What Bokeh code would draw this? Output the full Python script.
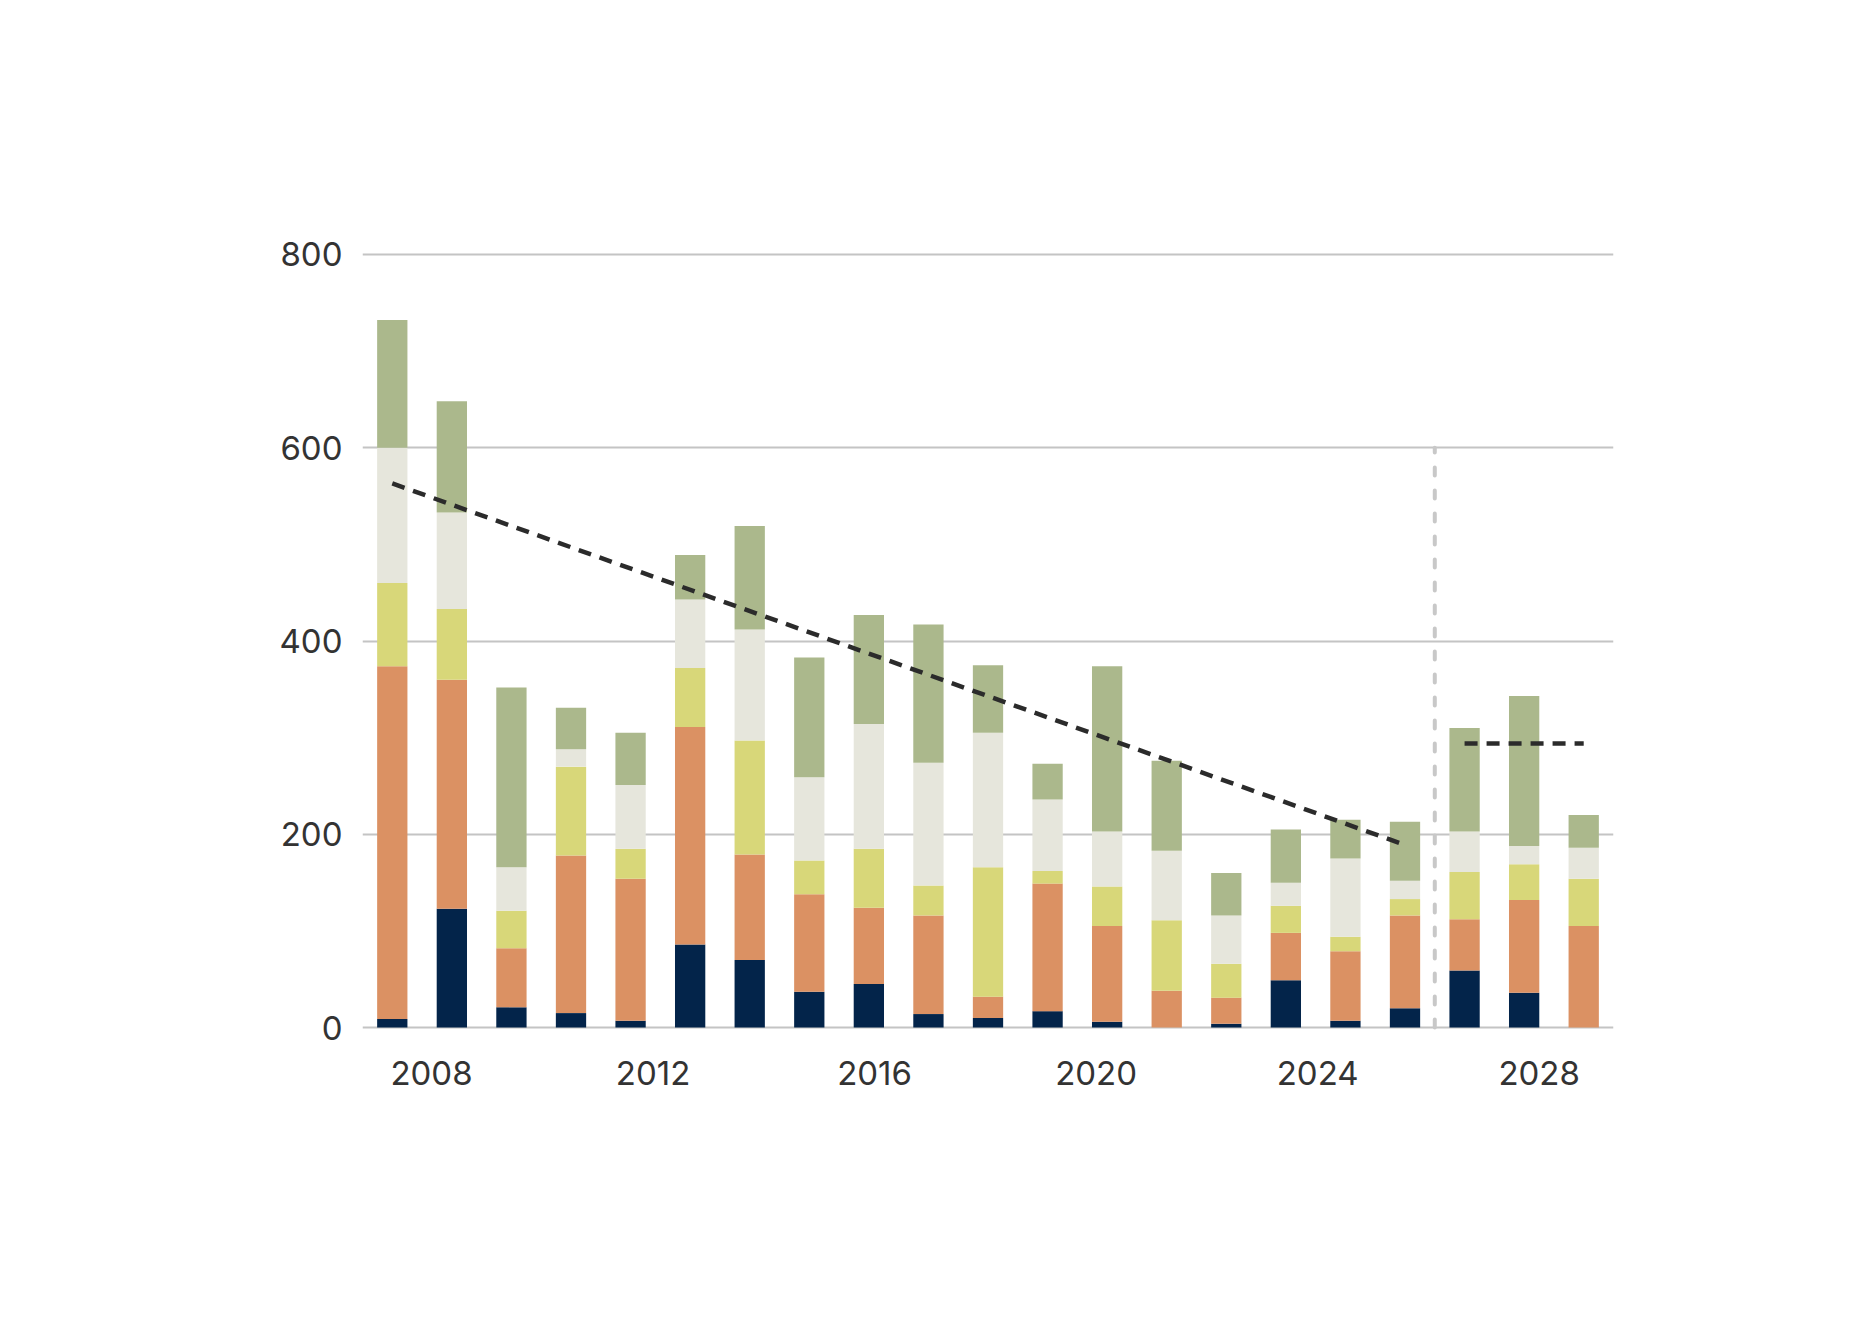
from bokeh.plotting import figure
from bokeh.models import ColumnDataSource, Range1d, FixedTicker
from bokeh.embed import file_html
from bokeh.resources import INLINE

# ---- data ----
bar_labels = [str(y) for y in range(2007, 2028)]
navy   = [9, 123, 21, 15, 7, 86, 70, 37, 45, 14, 10, 17, 6, 0, 4, 49, 7, 20, 59, 36, 0]
orange = [365, 237, 61, 163, 147, 225, 109, 101, 79, 102, 22, 132, 99, 38, 27, 49, 72, 96, 53, 96, 105]
yellow = [86, 73, 39, 92, 31, 61, 118, 35, 61, 31, 134, 13, 41, 73, 35, 28, 15, 17, 49, 37, 49]
light  = [140, 100, 45, 18, 66, 71, 115, 86, 129, 127, 139, 74, 57, 72, 50, 24, 81, 19, 42, 19, 32]
green  = [132, 115, 186, 43, 54, 46, 107, 124, 113, 143, 70, 37, 171, 93, 44, 55, 40, 61, 107, 155, 34]

trend_past_idx = [0, 17]
trend_past_val = [563, 189]
trend_fut_idx = [18, 20]
trend_fut_val = [294, 294]
split_after_idx = 17          # vertical divider sits between bar 17 and bar 18
split_top = 600

tick_years = [2008, 2012, 2016, 2020, 2024, 2028]
y_ticks = [0, 200, 400, 600, 800]

# ---- axis geometry ----
X_START, X_END = 2006.754, 2029.342
n = len(bar_labels)
step = (X_END - X_START) / n


def xpos(i):
    return X_START + (i + 0.5) * step


source = ColumnDataSource(dict(
    x=[xpos(i) for i in range(n)],
    label=bar_labels,
    navy=navy, orange=orange, yellow=yellow, light=light, green=green,
))

colors = ["#03244a", "#db9163", "#d8d779", "#e6e6dc", "#abb88c"]
keys = ["navy", "orange", "yellow", "light", "green"]

p = figure(width=1850, height=1308, output_backend="svg", toolbar_location=None,
           x_range=Range1d(X_START, X_END), y_range=Range1d(-3, 803),
           min_border_left=362, min_border_right=237, min_border_top=251,
           min_border_bottom=278)
p.outline_line_color = None
p.background_fill_color = "white"
p.border_fill_color = "white"

p.vbar_stack(keys, x="x", width=0.547, color=colors, line_color=None, source=source)

# divider between actual and forecast
xd = X_START + (split_after_idx + 1) * step
p.line([xd, xd], [0, split_top], line_color="#c8c8c8", line_width=4,
       line_dash="8 15", line_cap="round")

# trend lines
p.line([xpos(i) for i in trend_past_idx], trend_past_val, line_color="#2b2b2b",
       line_width=4.5, line_dash="13 9")
p.line([xpos(i) for i in trend_fut_idx], trend_fut_val, line_color="#2b2b2b",
       line_width=4.5, line_dash="13 9")

# axes
p.xaxis.ticker = FixedTicker(ticks=tick_years)
p.yaxis.ticker = FixedTicker(ticks=y_ticks)
for ax in (p.xaxis, p.yaxis):
    ax.axis_line_color = None
    ax.major_tick_line_color = None
    ax.minor_tick_line_color = None
    ax.major_tick_out = 0
    ax.major_tick_in = 0
    ax.major_label_text_font = "Inter"
    ax.major_label_text_font_size = "33px"
    ax.major_label_text_color = "#333333"
p.xaxis.major_label_standoff = 30
p.yaxis.major_label_standoff = 20

p.xgrid.grid_line_color = None
p.ygrid.ticker = FixedTicker(ticks=y_ticks)
p.ygrid.grid_line_color = "#c4c4c4"
p.ygrid.grid_line_width = 2

open("out.html", "w").write(file_html(p, INLINE))
